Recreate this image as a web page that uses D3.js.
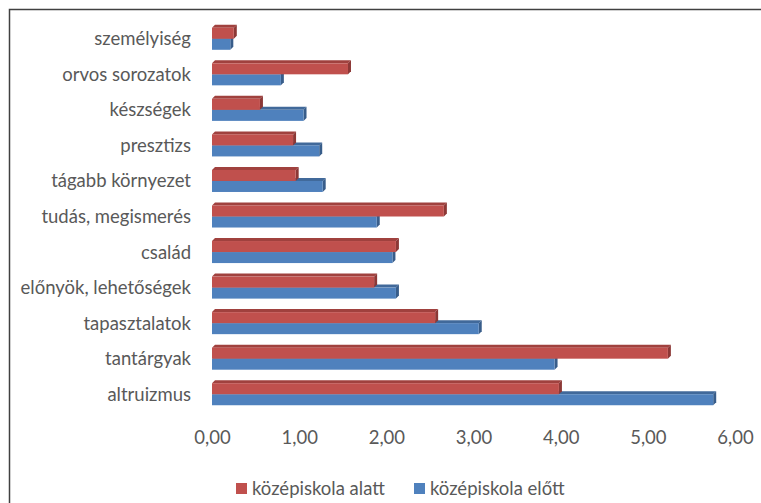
<!DOCTYPE html>
<html>
<head>
<meta charset="utf-8">
<script src="https://cdn.jsdelivr.net/npm/d3@7"></script>
<style>
  body { margin: 0; background: #fff; }
  text { font-family: Lato, "Open Sans", sans-serif; fill: #595959; }
</style>
</head>
<body>
<script>
// categories, top to bottom
var categories = ["személyiség", "orvos sorozatok", "készségek", "presztizs", "tágabb környezet",
  "tudás, megismerés", "család", "előnyök, lehetőségek", "tapasztalatok", "tantárgyak", "altruizmus"]
var seriesNames = ["középiskola alatt", "középiskola előtt"]
var alatt = [0.25, 1.56, 0.55, 0.93, 0.96, 2.66, 2.11, 1.86, 2.56, 5.23, 3.98]
var elott = [0.21, 0.79, 1.05, 1.23, 1.27, 1.89, 2.07, 2.11, 3.06, 3.93, 5.75]
var xTicks = [0, 1, 2, 3, 4, 5, 6]

var colors = { front: ["#C0504D", "#4F81BD"], side: ["#8C3836", "#385D8A"], top: ["#A0413E", "#41699A"] }

var W = 761, H = 503
var margin = { top: 21, left: 212, right: 26, bottom: 91 }
var width = W - margin.left - margin.right,
  height = H - margin.top - margin.bottom

var svg = d3.select("body").append("svg")
  .attr("width", W)
  .attr("height", H)

// outer frame (right and bottom sides are cut off in the picture)
svg.append("path")
  .attr("d", "M9.5," + H + "V9.5H" + W)
  .attr("fill", "none")
  .attr("stroke", "#404040")
  .attr("stroke-width", 1.5)

var g = svg.append("g")
  .attr("transform", "translate(" + margin.left + "," + margin.top + ")")

var x = d3.scaleLinear()
  .domain([0, 6])
  .range([0, 523])

var y = d3.scaleBand()
  .domain(categories)
  .range([0, height])
  .paddingInner(0.38)
  .paddingOuter(0.19)

var sub = d3.scaleBand()
  .domain(seriesNames)
  .range([0, y.bandwidth()])

var d = 3

// bars: blue first, red on top of it
var series = [{ name: seriesNames[1], values: elott, c: 1 }, { name: seriesNames[0], values: alatt, c: 0 }]
series.forEach(function (s) {
  categories.forEach(function (cat, i) {
    var x0 = x(0), x1 = x(s.values[i])
    var y0 = y(cat) + sub(s.name), h = sub.bandwidth()
    // top face
    g.append("path")
      .attr("d", "M" + x0 + "," + y0 + "L" + (x0 + d) + "," + (y0 - d) + "L" + (x1 + d) + "," + (y0 - d) + "L" + x1 + "," + y0 + "Z")
      .attr("fill", colors.top[s.c])
    // side face
    g.append("path")
      .attr("d", "M" + x1 + "," + y0 + "L" + (x1 + d) + "," + (y0 - d) + "L" + (x1 + d) + "," + (y0 + h - d) + "L" + x1 + "," + (y0 + h) + "Z")
      .attr("fill", colors.side[s.c])
    // front face
    g.append("rect")
      .attr("x", x0)
      .attr("y", y0)
      .attr("width", x1 - x0)
      .attr("height", h)
      .attr("fill", colors.front[s.c])
  })
})

// category labels
g.selectAll(".cat")
  .data(categories)
  .enter().append("text")
  .attr("class", "cat")
  .attr("x", -21)
  .attr("y", function (c) { return y(c) + y.bandwidth() / 2 })
  .attr("dy", "0.35em")
  .attr("text-anchor", "end")
  .style("font-size", "18.5px")
  .text(function (c) { return c })

// x axis, labels only
var xAxis = g.append("g")
  .attr("transform", "translate(0," + height + ")")
  .call(d3.axisBottom(x).tickValues(xTicks).tickSize(0).tickPadding(19)
    .tickFormat(function (v) { return d3.format(".2f")(v).replace(".", ",") }))
xAxis.select(".domain").remove()
xAxis.selectAll("text")
  .style("font-size", "18.5px")
  .style("font-family", "Lato, 'Open Sans', sans-serif")
  .attr("fill", "#595959")

// legend
var legend = svg.append("g").attr("transform", "translate(236,483)")
var legendX = [0, 178]
seriesNames.forEach(function (n, i) {
  legend.append("rect")
    .attr("x", legendX[i])
    .attr("y", 0)
    .attr("width", 11)
    .attr("height", 11)
    .attr("fill", colors.front[i])
  legend.append("text")
    .attr("x", legendX[i] + 16)
    .attr("y", 5.5)
    .attr("dy", "0.35em")
    .style("font-size", "18.5px")
    .text(n)
})
</script>
</body>
</html>
